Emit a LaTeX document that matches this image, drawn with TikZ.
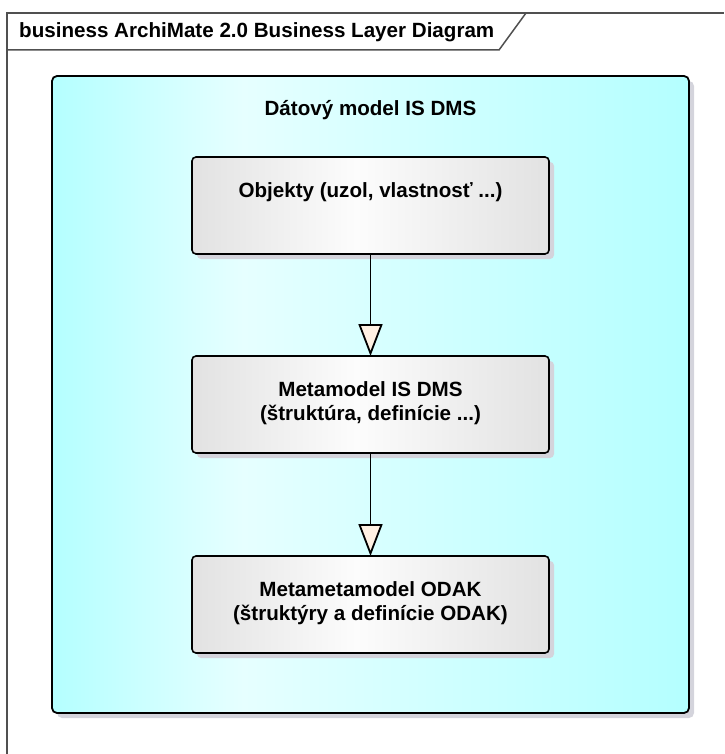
\documentclass[tikz,border=0pt]{standalone}
\usepackage{fontspec}
\setmainfont{Liberation Sans}
\usetikzlibrary{arrows.meta,shadows}
\definecolor{framegray}{HTML}{505050}
\definecolor{cyanedge}{HTML}{B4FFFF}
\definecolor{cyanmid}{HTML}{E6FFFF}
\definecolor{boxedge}{HTML}{E2E2E2}
\definecolor{boxmid}{HTML}{FCFCFC}
\definecolor{shadowgray}{HTML}{D4D4DC}
\definecolor{arrowfill}{HTML}{FFF1E3}
\pgfdeclarehorizontalshading{cyanfade}{100bp}{color(0bp)=(cyanedge); color(25bp)=(cyanedge); color(40bp)=(cyanmid); color(75bp)=(cyanedge); color(100bp)=(cyanedge)}
\pgfdeclarehorizontalshading{grayfade}{100bp}{color(0bp)=(boxedge); color(25bp)=(boxedge); color(48bp)=(boxmid); color(75bp)=(boxedge); color(100bp)=(boxedge)}
\begin{document}
\begin{tikzpicture}[x=1pt, y=-1pt,
    bigtext/.style={font=\fontsize{20.6}{23.5}\selectfont\bfseries, inner sep=0pt},
    modelbox/.style={draw=black, line width=1.8pt, rounded corners=5pt, shade, shading=cyanfade,
      minimum width=637pt, minimum height=637pt, inner sep=0pt, outer sep=0pt,
      drop shadow={shadow xshift=5pt, shadow yshift=-5pt, fill=shadowgray, opacity=1}},
    layerbox/.style={draw=black, line width=1.6pt, rounded corners=4pt, shade, shading=grayfade,
      minimum width=357pt, minimum height=97pt, inner sep=0pt, outer sep=0pt,
      drop shadow={shadow xshift=5pt, shadow yshift=-5pt, fill=shadowgray, opacity=1}},
    realize/.style={line width=1.8pt, -{Triangle[length=32pt, width=24pt, fill=arrowfill]}}]
    \useasboundingbox (0,0) rectangle (724,754);
    \draw[framegray, line width=1.5pt] (7,754) -- (7,13) -- (724,13);
    \draw[framegray, line width=1.5pt] (7,50) -- (499,50) -- (526,13);
    \node[bigtext, anchor=base west] (diagtitle) at (19,38) {business ArchiMate 2.0 Business Layer Diagram};
    \node[modelbox] (model) at (370.5,394.5) {};
    \node[bigtext, anchor=base] (modeltitle) at (370.5,116) {Dátový model IS DMS};
    \node[layerbox] (objects) at (370.5,205.5) {};
    \node[bigtext, anchor=base] (objectstext) at (370.5,197) {Objekty (uzol, vlastnosť ...)};
    \node[layerbox] (metamodel) at (370.5,404.5) {};
    \node[bigtext, anchor=base, align=center] (metamodeltext) at (370.5,420) {Metamodel IS DMS\\(štruktúra, definície ...)};
    \node[layerbox] (metameta) at (370.5,604.5) {};
    \node[bigtext, anchor=base, align=center] (metametatext) at (370.5,620) {Metametamodel ODAK\\(štruktýry a definície ODAK)};
    \draw[realize] (objects) -- (metamodel);
    \draw[realize] (metamodel) -- (metameta);
\end{tikzpicture}
\end{document}
